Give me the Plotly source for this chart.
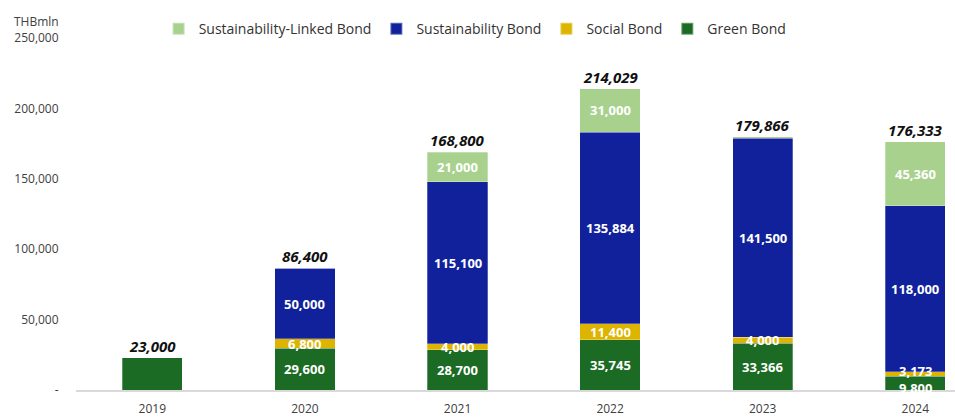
import plotly.graph_objects as go

# Thai sustainable bond issuance by type (THB million)
years = ["2019", "2020", "2021", "2022", "2023", "2024"]
green_bond = [23000, 29600, 28700, 35745, 33366, 9800]
social_bond = [0, 6800, 4000, 11400, 4000, 3173]
sustainability_bond = [0, 50000, 115100, 135884, 141500, 118000]
sustainability_linked_bond = [0, 0, 21000, 31000, 1000, 45360]
totals = [23000, 86400, 168800, 214029, 179866, 176333]

y_tickvals = [0, 50000, 100000, 150000, 200000, 250000]
y_ticktext = ["-", "50,000", "100,000", "150,000", "200,000", "250,000"]

FONT = "Open Sans"
series = [
    ("Green Bond", green_bond, "#1C6B24"),
    ("Social Bond", social_bond, "#DDB400"),
    ("Sustainability Bond", sustainability_bond, "#10219B"),
    ("Sustainability-Linked Bond", sustainability_linked_bond, "#A9D18E"),
]
# segments whose values are printed inside the bars
labelled = {
    "Green Bond": [False, True, True, True, True, True],
    "Social Bond": [False, True, True, True, True, True],
    "Sustainability Bond": [False, True, True, True, True, True],
    "Sustainability-Linked Bond": [False, False, True, True, False, True],
}

fig = go.Figure()
base = [0] * len(years)
annotations = []
for name, vals, color in series:
    fig.add_trace(go.Bar(
        x=years, y=vals, name=name,
        marker=dict(color=color, line=dict(color="rgba(255,255,255,0.35)", width=0.8)),
        width=0.395,
    ))
    for i, v in enumerate(vals):
        if v and labelled[name][i]:
            # nudge labels of very thin segments apart
            shift = 0
            if name == "Green Bond" and v < 12000:
                shift = -5
            if name == "Social Bond" and base[i] < 12000:
                shift = 3
            annotations.append(dict(
                x=i, y=base[i] + v / 2, text=f"<b>{v:,}</b>", showarrow=False,
                yshift=shift,
                font=dict(family=FONT, size=13, color="white"),
            ))
    base = [b + v for b, v in zip(base, vals)]

# bold italic totals above each stack
for i, t in enumerate(totals):
    annotations.append(dict(
        x=i, y=t, text=f"<b><i>{t:,}</i></b>", showarrow=False,
        yanchor="bottom", yshift=0,
        font=dict(family=FONT, size=15, color="#111111"),
    ))

annotations.append(dict(
    xref="paper", yref="paper", x=-0.073, y=1.0, yshift=17, text="THBmln",
    showarrow=False, xanchor="left", yanchor="middle",
    font=dict(family=FONT, size=12, color="#404040"),
))

fig.update_layout(
    barmode="stack",
    width=955, height=417,
    margin=dict(l=76, r=0, t=38, b=24),
    paper_bgcolor="white", plot_bgcolor="white",
    font=dict(family=FONT, size=12, color="#404040"),
    legend=dict(
        orientation="h", traceorder="reversed",
        x=0.094, y=1.025, xanchor="left", yanchor="middle", yref="paper",
        font=dict(family=FONT, size=14, color="#333333"),
        itemwidth=30, itemsizing="constant",
    ),
    annotations=annotations,
    xaxis=dict(
        type="category", range=[-0.5, 5.26],
        showline=True, linecolor="#D9D9D9", linewidth=2,
        ticks="outside", ticklen=7, tickcolor="rgba(0,0,0,0)",
        tickfont=dict(family=FONT, size=12, color="#404040"),
        showgrid=False, zeroline=False, fixedrange=True,
    ),
    yaxis=dict(
        range=[0, 250000], tickvals=y_tickvals, ticktext=y_ticktext,
        showgrid=False, zeroline=False, showline=False,
        ticks="outside", ticklen=14, tickcolor="rgba(0,0,0,0)",
        tickfont=dict(family=FONT, size=12, color="#404040"),
    ),
    showlegend=True,
)

fig.write_html("out.html")
